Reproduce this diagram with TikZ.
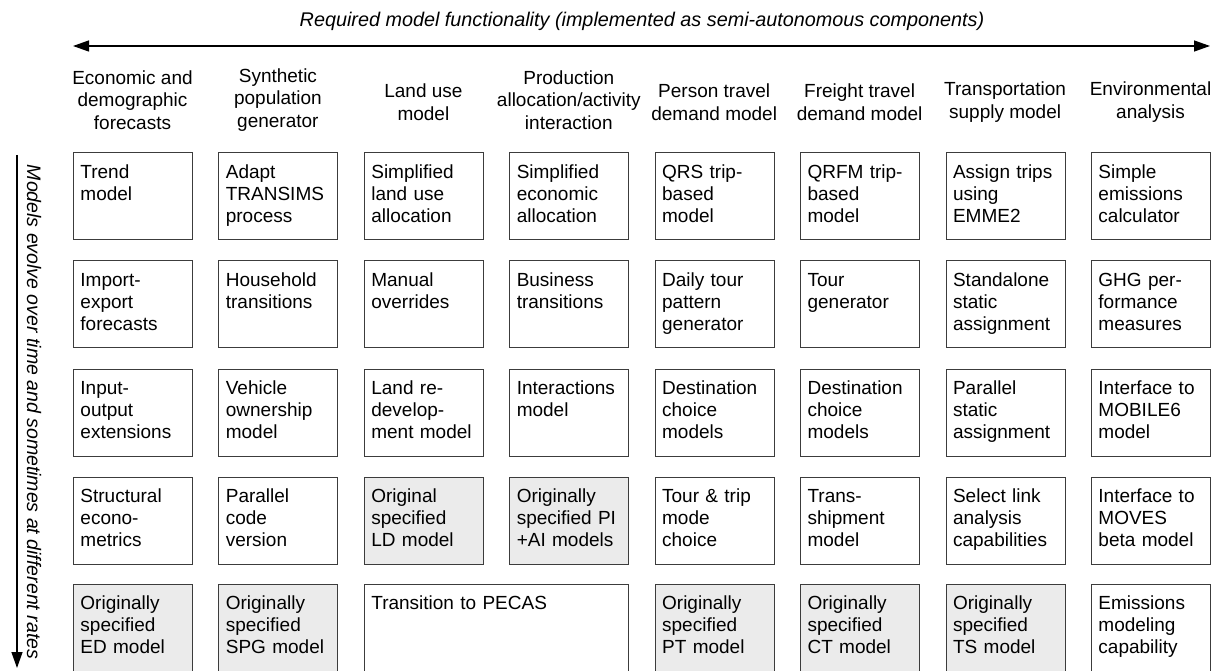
\documentclass[tikz,border=0pt]{standalone}
\usepackage{fontspec}
\setmainfont{Liberation Sans}
\usetikzlibrary{arrows.meta}
\definecolor{boxc}{RGB}{60,60,60}
\definecolor{grayfill}{RGB}{235,235,235}
\newcommand{\cellfont}{\fontsize{19}{22}\selectfont}
\newcommand{\cc}[1]{\parbox[c][87pt][t]{105pt}{\raggedright\rule{0pt}{26pt}#1}}
\newcommand{\ccw}[1]{\parbox[c][87pt][t]{250pt}{\raggedright\rule{0pt}{26pt}#1}}
\begin{document}
\begin{tikzpicture}[x=1pt,y=-1pt,
  cell/.style={draw=boxc, line width=0.9pt, fill=white, anchor=north west, inner xsep=7pt, inner ysep=0pt,
    minimum width=119pt, minimum height=87pt, text width=105pt, align=left, font=\cellfont},
  gcell/.style={cell, fill=grayfill},
  wcell/.style={cell, minimum width=264.4pt, text width=250.4pt},
  head/.style={align=center, font=\fontsize{19}{22.5}\selectfont, inner sep=0pt, anchor=center},
  axis/.style={line width=1.3pt, -{Triangle[length=16pt,width=11pt]}},
  axis2/.style={line width=1.3pt, {Triangle[length=16pt,width=11pt]}-{Triangle[length=16pt,width=11pt]}},
  axtext/.style={font=\fontsize{19.8}{22}\selectfont\itshape, inner sep=0pt}
]
\useasboundingbox (0,0) rectangle (1225,671);

% top axis
\node[axtext, anchor=base] (title) at (642,27) {Required model functionality (implemented as semi-autonomous components)};
\coordinate (hl) at (73,46);
\coordinate (hr) at (1210,46);
\draw[axis2] (hl) -- (hr);

% left axis
\coordinate (vt) at (17,155);
\coordinate (vb) at (17,668);
\draw[axis] (vt) -- (vb);
\node[axtext, rotate=-90, font=\fontsize{19.5}{22}\selectfont\itshape] (vtext) at (34,412) {Models evolve over time and sometimes at different rates};

% headers
\node[head] (h1) at (132.5,100) {Economic and\\demographic\\forecasts};
\node[head] (h2) at (277.9,100) {Synthetic\\population\\generator};
\node[head] (h3) at (423.4,102) {Land use\\model};
\node[head] (h4) at (568.8,100) {Production\\allocation/activity\\interaction};
\node[head] (h5) at (714.2,102) {Person travel\\demand model};
\node[head] (h6) at (859.6,102) {Freight travel\\demand model};
\node[head] (h7) at (1005.1,102) {Transportation\\supply model};
\node[head] (h8) at (1150.5,102) {Environmental\\analysis};

% column 1
\node[cell]  (c11) at (73,152)   {\cc{Trend\\model}};
\node[cell]  (c12) at (73,260)   {\cc{Import-\\export\\forecasts}};
\node[cell]  (c13) at (73,368.5) {\cc{Input-\\output\\extensions}};
\node[cell]  (c14) at (73,476.5) {\cc{Structural\\econo-\\metrics}};
\node[gcell] (c15) at (73,583.5) {\cc{Originally\\specified\\ED model}};
% column 2
\node[cell]  (c21) at (218.4,152)   {\cc{Adapt\\TRANSIMS\\process}};
\node[cell]  (c22) at (218.4,260)   {\cc{Household\\transitions}};
\node[cell]  (c23) at (218.4,368.5) {\cc{Vehicle\\ownership\\model}};
\node[cell]  (c24) at (218.4,476.5) {\cc{Parallel\\code\\version}};
\node[gcell] (c25) at (218.4,583.5) {\cc{Originally\\specified\\SPG model}};
% column 3
\node[cell]  (c31) at (363.9,152)   {\cc{Simplified\\land use\\allocation}};
\node[cell]  (c32) at (363.9,260)   {\cc{Manual\\overrides}};
\node[cell]  (c33) at (363.9,368.5) {\cc{Land re-\\develop-\\ment model}};
\node[gcell] (c34) at (363.9,476.5) {\cc{Original\\specified\\LD model}};
\node[wcell] (c35) at (363.9,583.5) {\ccw{Transition to PECAS}};
% column 4
\node[cell]  (c41) at (509.3,152)   {\cc{Simplified\\economic\\allocation}};
\node[cell]  (c42) at (509.3,260)   {\cc{Business\\transitions}};
\node[cell]  (c43) at (509.3,368.5) {\cc{Interactions\\model}};
\node[gcell] (c44) at (509.3,476.5) {\cc{Originally\\specified PI\\+AI models}};
% column 5
\node[cell]  (c51) at (654.7,152)   {\cc{QRS trip-\\based\\model}};
\node[cell]  (c52) at (654.7,260)   {\cc{Daily tour\\pattern\\generator}};
\node[cell]  (c53) at (654.7,368.5) {\cc{Destination\\choice\\models}};
\node[cell]  (c54) at (654.7,476.5) {\cc{Tour \& trip\\mode\\choice}};
\node[gcell] (c55) at (654.7,583.5) {\cc{Originally\\specified\\PT model}};
% column 6
\node[cell]  (c61) at (800.1,152)   {\cc{QRFM trip-\\based\\model}};
\node[cell]  (c62) at (800.1,260)   {\cc{Tour\\generator}};
\node[cell]  (c63) at (800.1,368.5) {\cc{Destination\\choice\\models}};
\node[cell]  (c64) at (800.1,476.5) {\cc{Trans-\\shipment\\model}};
\node[gcell] (c65) at (800.1,583.5) {\cc{Originally\\specified\\CT model}};
% column 7
\node[cell]  (c71) at (945.6,152)   {\cc{Assign trips\\using\\EMME2}};
\node[cell]  (c72) at (945.6,260)   {\cc{Standalone\\static\\assignment}};
\node[cell]  (c73) at (945.6,368.5) {\cc{Parallel\\static\\assignment}};
\node[cell]  (c74) at (945.6,476.5) {\cc{Select link\\analysis\\capabilities}};
\node[gcell] (c75) at (945.6,583.5) {\cc{Originally\\specified\\TS model}};
% column 8
\node[cell]  (c81) at (1091,152)   {\cc{Simple\\emissions\\calculator}};
\node[cell]  (c82) at (1091,260)   {\cc{GHG per-\\formance\\measures}};
\node[cell]  (c83) at (1091,368.5) {\cc{Interface to\\MOBILE6\\model}};
\node[cell]  (c84) at (1091,476.5) {\cc{Interface to\\MOVES\\beta model}};
\node[cell]  (c85) at (1091,583.5) {\cc{Emissions\\modeling\\capability}};
\end{tikzpicture}
\end{document}
